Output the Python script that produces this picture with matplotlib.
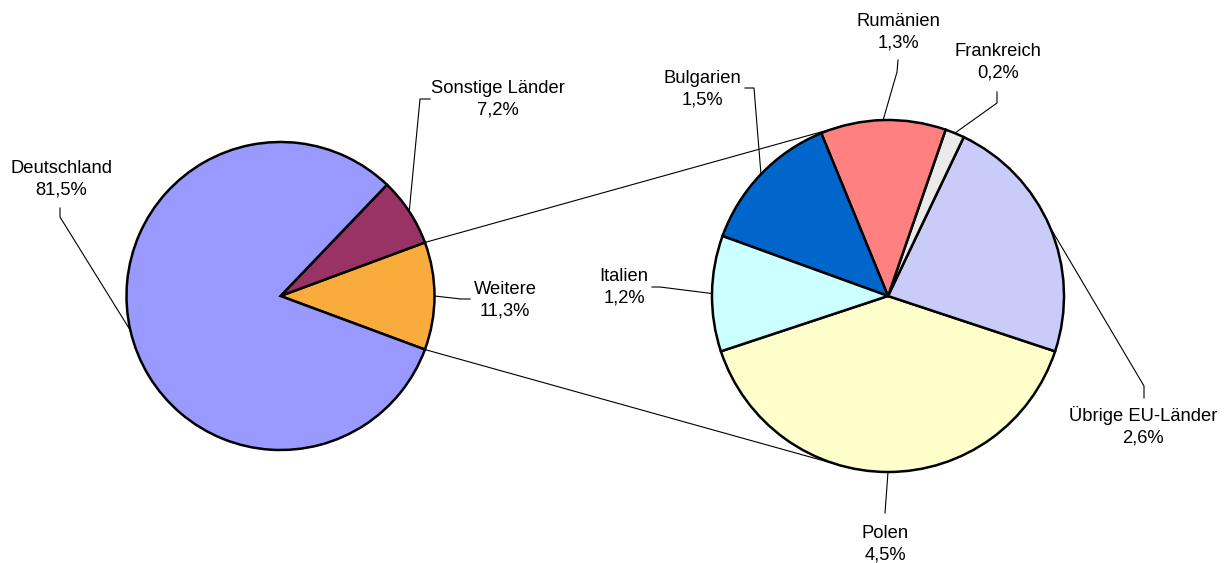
import numpy as np
import matplotlib
matplotlib.use("Agg")
import matplotlib.pyplot as plt

plt.rcParams["font.family"] = ["Liberation Sans", "DejaVu Sans"]

# Hauptkreis
laender_haupt = ["Weitere", "Sonstige Länder", "Deutschland"]
anteile_haupt = [11.3, 7.2, 81.5]
farben_haupt = ["#F9AB3B", "#993366", "#9999FF"]

# Aufteilung "Weitere"
laender_weitere = ["Polen", "Übrige EU-Länder", "Frankreich",
                   "Rumänien", "Bulgarien", "Italien"]
anteile_weitere = [4.5, 2.6, 0.2, 1.3, 1.5, 1.2]
farben_weitere = ["#FFFFCC", "#C9CBF9", "#EAEAEA",
                  "#FF8080", "#0066CC", "#CCFFFF"]

B, H = 1229, 563


def Y(y):
    # Pixelzeile (von oben) in Datenkoordinate
    return H - y


def etikett(wert):
    return f"{wert:.1f}%".replace(".", ",")


# Layout: Textmitte und Knickpunkte der Führungslinien (Pixel)
layout = {
    "Deutschland": ((61, 179), [(60, 208), (60, 217)]),
    "Sonstige Länder": ((498, 99), [(430, 99), (420, 99)]),
    "Weitere": ((505, 300), [(470, 299), (461, 299)]),
    "Rumänien": ((898, 32), [(898, 60), (897, 72)]),
    "Frankreich": ((998, 62), [(997, 92), (997, 103)]),
    "Bulgarien": ((702, 89), [(745, 88), (754, 88)]),
    "Italien": ((624, 287), [(652, 287), (660, 287)]),
    "Polen": ((885, 544), [(885, 513)]),
    "Übrige EU-Länder": ((1143, 426), [(1144, 398), (1144, 386)]),
}

fig = plt.figure(figsize=(B / 100, H / 100), dpi=100)
ax = fig.add_axes([0, 0, 1, 1])

c1, r1 = np.array([280.5, Y(296)]), 154
c2, r2 = np.array([888.0, Y(296)]), 176

start1 = -anteile_haupt[0] / sum(anteile_haupt) * 180
keile1, _ = ax.pie(
    anteile_haupt,
    colors=farben_haupt,
    startangle=start1,
    center=tuple(c1),
    radius=r1,
    wedgeprops=dict(edgecolor="black", linewidth=1.8),
)

start2 = 270 - anteile_weitere[0] / sum(anteile_weitere) * 180
keile2, _ = ax.pie(
    anteile_weitere,
    colors=farben_weitere,
    startangle=start2,
    center=tuple(c2),
    radius=r2,
    wedgeprops=dict(edgecolor="black", linewidth=1.8),
)


def randpunkt(c, r, winkel):
    a = np.deg2rad(winkel)
    return c + r * np.array([np.cos(a), np.sin(a)])


# Verbindungslinien (Tangenten an den zweiten Kreis)
w = keile1[0]
for winkel, vorzeichen in [(w.theta2, -1), (w.theta1, 1)]:
    p = randpunkt(c1, r1, winkel)
    d = p - c2
    phi = np.arctan2(d[1], d[0])
    alpha = np.arccos(r2 / np.hypot(*d))
    t = c2 + r2 * np.array([np.cos(phi + vorzeichen * alpha),
                            np.sin(phi + vorzeichen * alpha)])
    ax.plot([p[0], t[0]], [p[1], t[1]], color="black", lw=0.8, zorder=0)

# Beschriftungen mit Führungslinien
for namen, werte, keile, c, r in [
    (laender_haupt, anteile_haupt, keile1, c1, r1),
    (laender_weitere, anteile_weitere, keile2, c2, r2),
]:
    for name, wert, keil in zip(namen, werte, keile):
        (tx, ty), knicke = layout[name]
        ax.text(tx, Y(ty), f"{name}\n{etikett(wert)}",
                ha="center", va="center", fontsize=13.2,
                color="black", linespacing=1.38)
        mitte = (keil.theta1 + keil.theta2) / 2
        ende = randpunkt(c, r, mitte)
        xs = [k[0] for k in knicke] + [ende[0]]
        ys = [Y(k[1]) for k in knicke] + [ende[1]]
        ax.plot(xs, ys, color="black", lw=0.8, zorder=0)

ax.set_xlim(0, B)
ax.set_ylim(0, H)
ax.set_aspect("equal")
ax.axis("off")

fig.savefig("out.png", dpi=100)
